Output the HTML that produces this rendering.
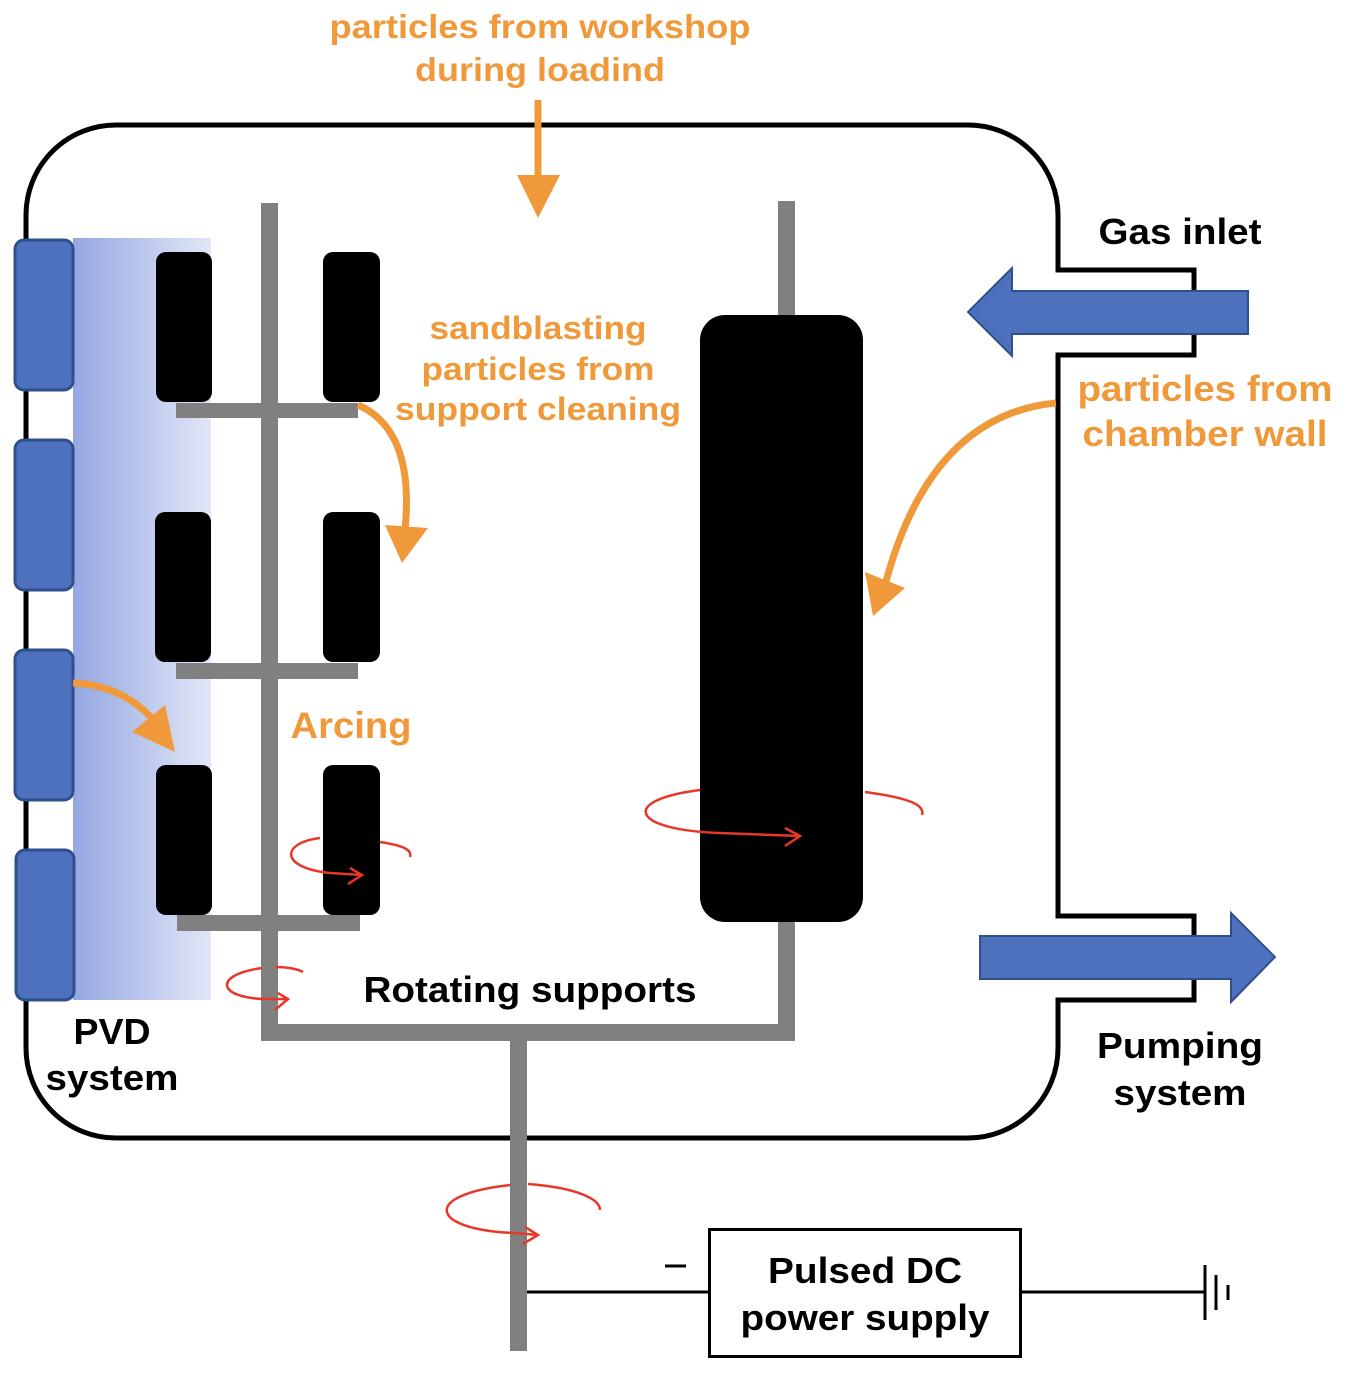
<!DOCTYPE html>
<html><head><meta charset="utf-8"><style>html,body{margin:0;padding:0;background:#fff}svg{display:block}text{font-family:"Liberation Sans",sans-serif;font-weight:bold}</style></head>
<body>
<svg width="1347" height="1376" viewBox="0 0 1347 1376" xmlns="http://www.w3.org/2000/svg">
<defs>
<linearGradient id="g" x1="0" x2="1" y1="0" y2="0"><stop offset="0" stop-color="#95a7e3"/><stop offset="1" stop-color="#e2e6f6"/></linearGradient>
</defs>
<path d="M116,125 L968,125 A90,90 0 0 1 1058,215 L1058,270 L1194,270 L1194,355 L1058,355 L1058,916 L1194,916 L1194,1000 L1058,1000 L1058,1048 A90,90 0 0 1 968,1138 L116,1138 A90,90 0 0 1 26,1048 L26,215 A90,90 0 0 1 116,125 Z" fill="none" stroke="#000" stroke-width="5"/>
<rect x="73" y="238" width="138" height="762" fill="url(#g)"/>
<g fill="#4e71be" stroke="#2f4f8f" stroke-width="3">
<rect x="15" y="240" width="58" height="150" rx="9"/>
<rect x="15" y="440" width="58" height="150" rx="9"/>
<rect x="15" y="650" width="58" height="150" rx="9"/>
<rect x="16" y="850" width="58" height="150" rx="9"/>
</g>
<g fill="#808080">
<rect x="261" y="203" width="17" height="837"/>
<rect x="261" y="1024" width="534" height="17"/>
<rect x="778" y="201" width="17" height="839"/>
<rect x="510" y="1040" width="17" height="311"/>
<rect x="176" y="403" width="182" height="15"/>
<rect x="176" y="663" width="182" height="16"/>
<rect x="177" y="915" width="183" height="16"/>
</g>
<g fill="#000">
<rect x="156" y="252" width="56" height="150" rx="10"/>
<rect x="323" y="252" width="57" height="150" rx="10"/>
<rect x="155" y="512" width="56" height="150" rx="10"/>
<rect x="323" y="512" width="57" height="150" rx="10"/>
<rect x="156" y="765" width="56" height="150" rx="10"/>
<rect x="323" y="765" width="57" height="150" rx="10"/>
<rect x="700" y="315" width="163" height="607" rx="25"/>
</g>
<g fill="none" stroke="#f0993a" stroke-width="7">
<line x1="538" y1="100" x2="538" y2="180"/>
<path d="M358,405 Q415,430 405,530"/>
<path d="M1056,403 Q930,415 885,585"/>
<path d="M73,683 Q125,685 158,725"/>
</g>
<g fill="#f0993a">
<polygon points="517,175 560,175 538,218"/>
<polygon points="385,525 428,528 402,563"/>
<polygon points="865,572 905,588 873,616"/>
<polygon points="132,732 165,705 175,752"/>
</g>
<g fill="none" stroke="#e8362a" stroke-width="2.5">
<path d="M700,790 C620,800 630,830 720,833 L800,836 M785,828 L800,836 L785,846 M865,792 C910,798 925,805 922,815"/>
<path d="M320,838 C280,843 280,868 330,873 L362,875 M350,868 L362,875 L348,884 M380,842 C405,846 412,850 410,857"/>
<path d="M262,968 C212,975 218,998 265,999 L287,999 M278,993 L288,999 L275,1010 M275,967 C290,967 300,970 303,972"/>
<path d="M510,1185 C420,1195 430,1230 515,1233 L538,1235 M525,1227 L538,1235 L523,1244 M528,1184 C580,1188 600,1200 600,1210"/>
</g>
<polygon points="1248,291 1012,291 1012,268 968,312 1012,356 1012,334 1248,334" fill="#4e71be" stroke="#2f4f8f" stroke-width="2"/>
<polygon points="980,936 1231,936 1231,913 1275,957 1231,1002 1231,979 980,979" fill="#4e71be" stroke="#2f4f8f" stroke-width="2"/>
<rect x="709.5" y="1229.5" width="311" height="127" fill="none" stroke="#000" stroke-width="3"/>
<g stroke="#000" stroke-width="3">
<line x1="527" y1="1292" x2="709" y2="1292"/>
<line x1="1021" y1="1292" x2="1205" y2="1292"/>
<line x1="1205" y1="1265" x2="1205" y2="1320"/>
<line x1="1216" y1="1275" x2="1216" y2="1310"/>
<line x1="1228" y1="1285" x2="1228" y2="1300"/>
<line x1="665" y1="1266" x2="686" y2="1266"/>
</g>
<g fill="#f0993a" text-anchor="middle" lengthAdjust="spacingAndGlyphs">
<text x="540" y="38" font-size="33" textLength="421" lengthAdjust="spacingAndGlyphs">particles from workshop</text>
<text x="540" y="81" font-size="33" textLength="250" lengthAdjust="spacingAndGlyphs">during loadind</text>
<text x="538" y="339" font-size="32" textLength="217" lengthAdjust="spacingAndGlyphs">sandblasting</text>
<text x="538" y="380" font-size="32" textLength="233" lengthAdjust="spacingAndGlyphs">particles from</text>
<text x="538" y="420" font-size="32" textLength="286" lengthAdjust="spacingAndGlyphs">support cleaning</text>
<text x="1205" y="401" font-size="36" textLength="255" lengthAdjust="spacingAndGlyphs">particles from</text>
<text x="1205" y="446" font-size="36" textLength="245" lengthAdjust="spacingAndGlyphs">chamber wall</text>
<text x="351" y="738" font-size="37" textLength="121" lengthAdjust="spacingAndGlyphs">Arcing</text>
</g>
<g fill="#000" text-anchor="middle" font-size="36">
<text x="1180" y="244" textLength="163" lengthAdjust="spacingAndGlyphs">Gas inlet</text>
<text x="530" y="1002" textLength="333" lengthAdjust="spacingAndGlyphs">Rotating supports</text>
<text x="112" y="1044" textLength="77" lengthAdjust="spacingAndGlyphs">PVD</text>
<text x="112" y="1090" textLength="133" lengthAdjust="spacingAndGlyphs">system</text>
<text x="1180" y="1058" textLength="166" lengthAdjust="spacingAndGlyphs">Pumping</text>
<text x="1180" y="1105" textLength="133" lengthAdjust="spacingAndGlyphs">system</text>
<text x="865" y="1283" textLength="194" lengthAdjust="spacingAndGlyphs">Pulsed DC</text>
<text x="865" y="1330" textLength="249" lengthAdjust="spacingAndGlyphs">power supply</text>
</g>
</svg>
</body></html>
